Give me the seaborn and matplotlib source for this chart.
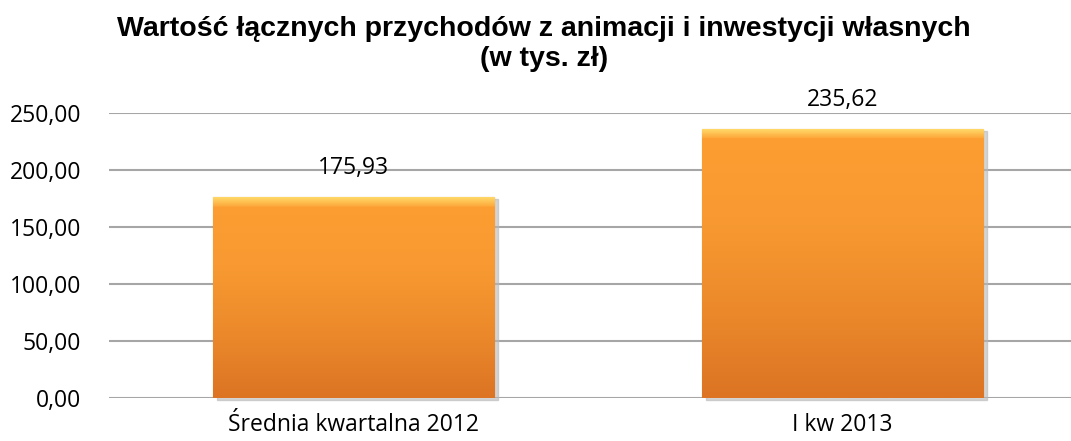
import numpy as np
import pandas as pd
import matplotlib
matplotlib.use("Agg")
import matplotlib.pyplot as plt
from matplotlib.colors import LinearSegmentedColormap
import seaborn as sns

# Chart data
categories = ["Średnia kwartalna 2012", "I kw 2013"]
values = [175.93, 235.62]
yticks = [0, 50, 100, 150, 200, 250]
title = "Wartość łącznych przychodów z animacji i inwestycji własnych\n(w tys. zł)"

df = pd.DataFrame({"kategoria": categories, "wartosc": values})

sns.set_theme(style="white")
plt.rcParams["font.family"] = ["Open Sans", "DejaVu Sans"]

fig = plt.figure(figsize=(10.71, 4.41), dpi=100)
ax = fig.add_axes([109 / 1071, 43 / 441, 962 / 1071, 285 / 441])

sns.barplot(data=df, x="kategoria", y="wartosc", color="#F7982F",
            width=0.575, saturation=1, ax=ax, zorder=3)

ax.set_ylim(0, 250)
ax.set_yticks(yticks)
ax.set_yticklabels([f"{t:.2f}".replace(".", ",") for t in yticks])
ax.yaxis.grid(True, color="#A6A6A6", linewidth=1.5, zorder=0)
ax.set_axisbelow(True)
for s in ax.spines.values():
    s.set_visible(False)
ax.tick_params(axis="both", length=0, labelsize=16.5, colors="black")
ax.tick_params(axis="y", pad=20)
ax.tick_params(axis="x", pad=11)
ax.set_xlabel("")
ax.set_ylabel("")

# gradient fill + bevel look on each bar
cmap = LinearSegmentedColormap.from_list(
    "bar", ["#DC7424", "#EC8A2B", "#F89A31", "#FD9E32", "#FFD766"])
for p in list(ax.patches):
    x0, y0 = p.get_x(), p.get_y()
    w, h = p.get_width(), p.get_height()
    band = 9.0 / h  # highlight band at the top
    grad = np.concatenate([np.linspace(0, 0.72, 200),
                           np.linspace(0.8, 1.0, max(int(200 * band), 4))]).reshape(-1, 1)
    sh = plt.Rectangle((x0 + 0.008, y0 - 1.5), w, h, color="#B8B8B8",
                       alpha=0.6, zorder=2, clip_on=False)
    ax.add_patch(sh)
    im = ax.imshow(grad, cmap=cmap, aspect="auto", origin="lower",
                   extent=[x0, x0 + w, y0, y0 + h], zorder=3.5)
    im.set_clip_path(p)
    p.set_edgecolor("#D06E1E")
    p.set_linewidth(0.8)
ax.set_xlim(-0.5, 1.467)
ax.set_ylim(0, 250)

for i, v in enumerate(values):
    ax.annotate(f"{v:.2f}".replace(".", ","), (i, v), xytext=(0, 21),
                textcoords="offset points", ha="center", va="center",
                fontsize=16.5, color="black", annotation_clip=False, zorder=5)

fig.text(544 / 1071, 1 - 44 / 441, title, ha="center", va="center",
         fontsize=20.5, fontweight="bold", color="black",
         family=["Liberation Sans", "DejaVu Sans"], linespacing=1.15)

fig.savefig("out.png", dpi=100, facecolor="white")
